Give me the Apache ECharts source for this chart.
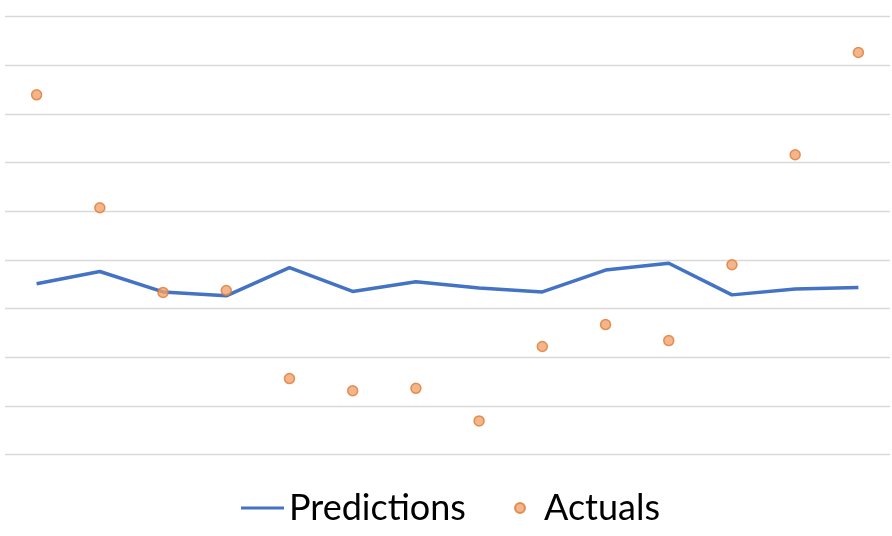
<!DOCTYPE html>
<html>
<head>
<meta charset="utf-8">
<script src="https://cdn.jsdelivr.net/npm/echarts@6/dist/echarts.min.js"></script>
<style>
    html, body {margin: 0; padding: 0; background: #fff;}
    #main {width: 892px; height: 536px;}
</style>
</head>
<body>
<div id="main"></div>
<script>
// category index, no labels shown in the original
var categories = ['1', '2', '3', '4', '5', '6', '7', '8', '9', '10', '11', '12', '13', '14'];

var predictions = [3.51, 3.76, 3.34, 3.26, 3.84, 3.35, 3.55, 3.42, 3.34, 3.79, 3.93, 3.28, 3.40, 3.43];
var actuals = [7.39, 5.07, 3.33, 3.37, 1.56, 1.31, 1.36, 0.69, 2.22, 2.67, 2.34, 3.90, 6.16, 8.26];

var colors = ['#4472C4', '#ED7D31'];

var option = {
    animation: false,
    color: colors,
    grid: {
        left: 5,
        right: 2,
        top: 16.5,
        bottom: 81.5
    },
    legend: [
        {
            data: [{name: 'Predictions', icon: 'rect'}],
            left: 236,
            top: 485,
            itemWidth: 43,
            itemHeight: 3,
            textStyle: {fontFamily: 'Lato', fontSize: 36, color: '#000'}
        },
        {
            data: ['Actuals'],
            left: 509,
            top: 485,
            itemWidth: 38,
            itemHeight: 10,
            textStyle: {fontFamily: 'Lato', fontSize: 36, color: '#000'}
        }
    ],
    xAxis: {
        type: 'category',
        data: categories,
        boundaryGap: true,
        axisLine: {show: false},
        axisTick: {show: false},
        axisLabel: {show: false}
    },
    yAxis: {
        type: 'value',
        min: 0,
        max: 9,
        interval: 1,
        axisLine: {show: false},
        axisTick: {show: false},
        axisLabel: {show: false},
        splitLine: {lineStyle: {color: '#D9D9D9', width: 1.3}}
    },
    series: [
        {
            name: 'Predictions',
            type: 'line',
            data: predictions,
            symbol: 'none',
            itemStyle: {color: colors[0]},
            lineStyle: {color: colors[0], width: 3.5}
        },
        {
            name: 'Actuals',
            type: 'scatter',
            data: actuals,
            symbol: 'circle',
            symbolSize: 10,
            itemStyle: {
                color: '#EFA26F',
                borderColor: '#E07A32',
                borderWidth: 1.5
            },
            z: 3
        }
    ]
};

var myChart = echarts.init(document.getElementById('main'));
myChart.setOption(option);
</script>
</body>
</html>
